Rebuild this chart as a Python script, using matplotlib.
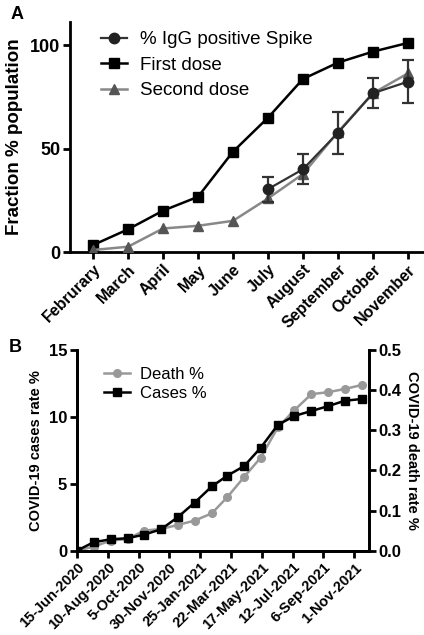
import pandas as pd
import matplotlib
matplotlib.use('Agg')
import matplotlib.pyplot as plt
from matplotlib.lines import Line2D

plt.rcParams['font.family'] = ['Liberation Sans', 'DejaVu Sans']

# Panel A data
months = ['Februrary', 'March', 'April', 'May', 'June', 'July', 'August',
          'September', 'October', 'November']
first_dose = [3.4, 11, 20, 26.7, 48.5, 64.9, 83.6, 91.5, 96.8, 101]
second_dose = [1, 2.6, 11.4, 12.7, 15.1, 25.9, 37.7, 58, 76.7, 86.3]
igg_months = ['July', 'August', 'September', 'October', 'November']
igg_mean = [30.4, 40, 57.6, 76.7, 82.3]
igg_err = [6, 7.3, 10, 7.2, 10.3]

# Panel B data (monthly, 15th of each month)
b_dates = pd.date_range('2020-06-01', '2021-11-01', freq='MS') + pd.Timedelta(days=14)
cases_pct = [0, 0.63, 0.85, 0.93, 1.2, 1.6, 2.5, 3.6, 4.8, 5.6, 6.33, 7.7,
             9.4, 10.07, 10.44, 10.81, 11.21, 11.34]
death_pct = [0, 0.01, 0.025, 0.029, 0.05, 0.054, 0.064, 0.075, 0.093, 0.133,
             0.184, 0.232, 0.307, 0.35, 0.39, 0.395, 0.403, 0.413]
b_tick_labels = ['15-Jun-2020', '10-Aug-2020', '5-Oct-2020', '30-Nov-2020',
                 '25-Jan-2021', '22-Mar-2021', '17-May-2021', '12-Jul-2021',
                 '6-Sep-2021', '1-Nov-2021']
b_ticks = pd.to_datetime(b_tick_labels, format='%d-%b-%Y')

fig = plt.figure(figsize=(4.24, 6.35), dpi=100)

# ---------------- Panel A ----------------
ax = fig.add_axes([0.165, 0.603, 0.835, 0.362])
x = list(range(len(months)))
xi = [months.index(m) for m in igg_months]

ax.plot(x, first_dose, color='black', lw=1.8, marker='s', ms=6.5, zorder=3)
ax.plot(x, second_dose, color='#888888', lw=1.8, marker='^', ms=6.5,
        mfc='#555555', mec='#555555', zorder=3)
ax.errorbar(xi, igg_mean, yerr=igg_err, color='#333333', lw=1.6, marker='o',
            ms=7.5, mfc='#222222', mec='#222222', capsize=4, capthick=1.6,
            elinewidth=1.6, zorder=4)

ax.set_xlim(-0.66, 9.46)
ax.set_ylim(0, 111)
ax.set_yticks([0, 50, 100])
ax.set_xticks(x)
ax.set_xticklabels(months, rotation=45, ha='right', rotation_mode='anchor',
                   fontsize=11.5, fontweight='bold')
for lab in ax.get_yticklabels():
    lab.set_fontweight('bold')
    lab.set_fontsize(13)
ax.set_ylabel('Fraction % population', fontsize=13.5, fontweight='bold',
              labelpad=5)
for s in ['top', 'right']:
    ax.spines[s].set_visible(False)
for s in ['left', 'bottom']:
    ax.spines[s].set_linewidth(2)
ax.tick_params(width=2, length=5, pad=2)

handles_a = [
    Line2D([], [], color='#333333', lw=1.6, marker='o', ms=7.5,
           mfc='#222222', mec='#222222'),
    Line2D([], [], color='black', lw=1.8, marker='s', ms=6.5),
    Line2D([], [], color='#888888', lw=1.8, marker='^', ms=6.5,
           mfc='#555555', mec='#555555'),
]
ax.legend(handles_a, ['% IgG positive Spike', 'First dose', 'Second dose'],
          loc='upper left', bbox_to_anchor=(0.04, 1.035), frameon=False,
          fontsize=13.5, handlelength=1.4, handletextpad=0.7,
          labelspacing=0.45)
fig.text(0.025, 0.977, 'A', fontsize=13, fontweight='bold', va='center')

# ---------------- Panel B ----------------
bx = fig.add_axes([0.1816, 0.1328, 0.689, 0.316])
bx2 = bx.twinx()

bx2.plot(b_dates, death_pct, color='#999999', lw=1.8, marker='o', ms=5.5,
         zorder=2)
bx.plot(b_dates, cases_pct, color='black', lw=1.8, marker='s', ms=5.5,
        zorder=3)
bx.set_zorder(bx2.get_zorder() + 1)
bx.patch.set_visible(False)

bx.set_xlim(pd.Timestamp('2020-06-15'), pd.Timestamp('2021-11-28'))
bx.set_ylim(0, 15)
bx2.set_ylim(0, 0.5)
bx.set_yticks([0, 5, 10, 15])
bx2.set_yticks([0, 0.1, 0.2, 0.3, 0.4, 0.5])
bx2.set_yticklabels(['0.0', '0.1', '0.2', '0.3', '0.4', '0.5'])
bx.set_xticks(b_ticks)
bx.set_xticklabels(b_tick_labels, rotation=45, ha='right',
                   rotation_mode='anchor', fontsize=10.5, fontweight='bold')
for lab in bx.get_yticklabels() + bx2.get_yticklabels():
    lab.set_fontweight('bold')
    lab.set_fontsize(12)
bx.set_ylabel('COVID-19 cases rate %', fontsize=10.5, fontweight='bold',
              labelpad=4)
bx2.set_ylabel('COVID-19 death rate %', fontsize=10.5, fontweight='bold',
               rotation=270, labelpad=12)
for a in [bx, bx2]:
    a.spines['top'].set_visible(False)
    for s in ['left', 'bottom', 'right']:
        a.spines[s].set_linewidth(2)
    a.tick_params(width=2, length=5, pad=2)

handles_b = [
    Line2D([], [], color='#999999', lw=1.8, marker='o', ms=5.5),
    Line2D([], [], color='black', lw=1.8, marker='s', ms=5.5),
]
bx.legend(handles_b, ['Death %', 'Cases %'], loc='upper left',
          bbox_to_anchor=(0.04, 0.99), frameon=False, fontsize=12,
          handlelength=1.6, handletextpad=0.6, labelspacing=0.25)
fig.text(0.02, 0.452, 'B', fontsize=13, fontweight='bold', va='center')

fig.savefig('out.png', dpi=100)
